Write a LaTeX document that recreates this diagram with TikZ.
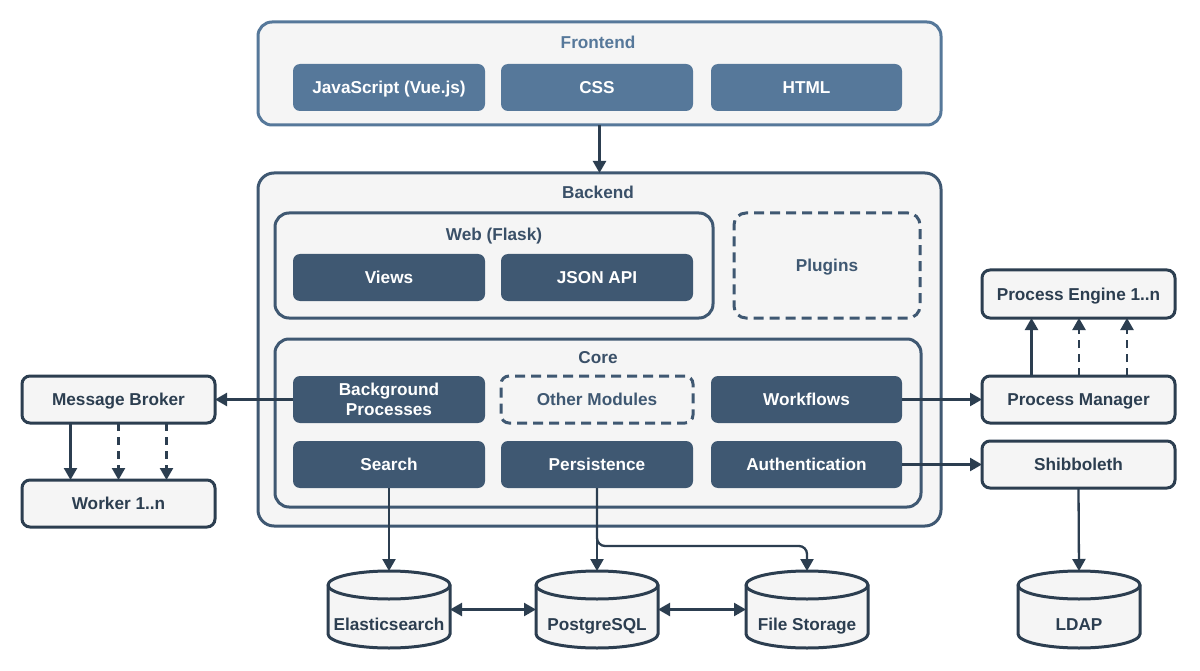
\documentclass[tikz,border=0pt]{standalone}
\usepackage{fontspec}
\setmainfont{Liberation Sans}
\usetikzlibrary{arrows.meta}
\definecolor{dk}{HTML}{2C3E50}
\definecolor{md}{HTML}{3F5872}
\definecolor{fr}{HTML}{56789A}
\definecolor{lt}{HTML}{F5F5F5}
\definecolor{tt}{HTML}{3A5068}
\newcommand\lab{\fontsize{17.2}{20}\selectfont\bfseries}
\tikzset{
  every node/.style={inner sep=0pt, outer sep=0pt, font=\lab, align=center, text height=14pt, text depth=1.6pt},
  outerbox/.style={draw=md, line width=3pt, fill=lt, rounded corners=16pt},
  frontbox/.style={draw=fr, line width=3pt, fill=lt, rounded corners=14pt},
  groupbox/.style={draw=md, line width=3pt, fill=lt, rounded corners=14pt},
  dashbox/.style={draw=md, line width=3pt, fill=lt, rounded corners=12pt, dash pattern=on 10pt off 6pt, text=md},
  fbox/.style={fill=fr, text=white, rounded corners=7pt, minimum width=192pt, minimum height=47pt},
  cbox/.style={fill=md, text=white, rounded corners=7pt, minimum width=192pt, minimum height=47pt},
  sbox/.style={draw=dk, line width=3pt, fill=lt, text=dk, rounded corners=8pt, minimum width=193pt, minimum height=47pt},
  ttl/.style={text=tt},
  dbshape/.style={minimum width=122pt, minimum height=77pt},
  arr/.style={draw=dk, line width=2.3pt, -{Triangle[length=12pt,width=13pt]}},
  darr/.style={arr, dash pattern=on 8pt off 6pt},
  barr/.style={draw=dk, line width=2.3pt, {Triangle[length=12pt,width=13pt]}-{Triangle[length=12pt,width=13pt]}},
}
\newcommand\dbcyl[1]{%
  \path[draw=dk, line width=3pt, fill=lt] ([yshift=-14pt]#1.north west) -- ([yshift=14pt]#1.south west)
    arc[start angle=180, end angle=360, x radius=61pt, y radius=14pt]
    -- ([yshift=-14pt]#1.north east)
    arc[start angle=0, end angle=180, x radius=61pt, y radius=14pt] -- cycle;
  \draw[dk, line width=3pt] ([yshift=-14pt]#1.north west)
    arc[start angle=180, end angle=360, x radius=61pt, y radius=14pt];}
\begin{document}
\begin{tikzpicture}[x=1pt, y=-1pt]
\fill[white] (0,0) rectangle (1200,671);
\useasboundingbox (0,0) rectangle (1200,671);

% Frontend
\node[frontbox, minimum width=683pt, minimum height=103pt] (fe) at (599.5,73.5) {};
\node[text=fr] (fet) at (598,42) {Frontend};
\node[fbox] (js) at (389,87.5) {JavaScript (Vue.js)};
\node[fbox] (css) at (597,87.5) {CSS};
\node[fbox, minimum width=191pt] (html) at (806.5,87.5) {HTML};

% Backend
\node[outerbox, minimum width=683pt, minimum height=353pt] (be) at (599.5,349.5) {};
\node[ttl] (bet) at (598,192) {Backend};
\node[groupbox, minimum width=438pt, minimum height=105pt] (web) at (494,265.5) {};
\node[ttl] (webt) at (494,234) {Web (Flask)};
\node[cbox] (views) at (389,277.5) {Views};
\node[cbox] (json) at (597,277.5) {JSON API};
\node[dashbox, minimum width=186pt, minimum height=105pt] (plug) at (827,265.5) {Plugins};
\node[groupbox, minimum width=646pt, minimum height=168pt] (core) at (598,423) {};
\node[ttl] (coret) at (598,357) {Core};
\node[cbox, text height=34pt, text depth=2pt] (bg) at (389,399.5) {Background\\Processes};
\node[dashbox, rounded corners=8pt, minimum width=192pt, minimum height=47pt] (other) at (597,399.5) {Other Modules};
\node[cbox, minimum width=191pt] (wf) at (806.5,399.5) {Workflows};
\node[cbox] (search) at (389,464.5) {Search};
\node[cbox] (pers) at (597,464.5) {Persistence};
\node[cbox, minimum width=191pt] (auth) at (806.5,464.5) {Authentication};

% side boxes
\node[sbox] (mb) at (118.5,399.5) {Message Broker};
\node[sbox] (wk) at (118.5,503.5) {Worker 1..n};
\node[sbox, minimum height=48pt] (pe) at (1078.5,294) {Process Engine 1..n};
\node[sbox] (pm) at (1078.5,399.5) {Process Manager};
\node[sbox] (shib) at (1078.5,464.5) {Shibboleth};

% databases
\node[dbshape] (es) at (389,609.5) {};
\node[dbshape] (pg) at (597,609.5) {};
\node[dbshape] (fs) at (807,609.5) {};
\node[dbshape] (ldap) at (1079,609.5) {};
\dbcyl{es}\dbcyl{pg}\dbcyl{fs}\dbcyl{ldap}
\node[text=dk] (est) at (389,624) {Elasticsearch};
\node[text=dk] (pgt) at (597,624) {PostgreSQL};
\node[text=dk] (fst) at (807,624) {File Storage};
\node[text=dk] (ldapt) at (1079,624) {LDAP};

% connectors
\draw[arr] (fe.south) -- (be.north);
\draw[arr] (bg.west) -- (mb.east);
\draw[arr] ([xshift=-48pt]mb.south) -- ([xshift=-48pt]wk.north);
\draw[darr] (mb.south) -- (wk.north);
\draw[darr] ([xshift=48pt]mb.south) -- ([xshift=48pt]wk.north);
\draw[arr] (wf.east) -- (pm.west);
\draw[arr] (auth.east) -- (shib.west);
\draw[arr] ([xshift=-47pt]pm.north) -- ([xshift=-47pt]pe.south);
\draw[darr] ([xshift=0.5pt]pm.north) -- ([xshift=0.5pt]pe.south);
\draw[darr] ([xshift=48.5pt]pm.north) -- ([xshift=48.5pt]pe.south);
\draw[arr] (shib.south) -- (ldap.north);
\draw[arr] (search.south) -- (es.north);
\draw[arr] (pers.south) -- (pg.north);
\draw[arr, rounded corners=8pt] (pers.south) -- ([yshift=-58pt]pers.south) -| (fs.north);
\draw[barr] (es.east) -- (pg.west);
\draw[barr] (pg.east) -- (fs.west);
\end{tikzpicture}
\end{document}
